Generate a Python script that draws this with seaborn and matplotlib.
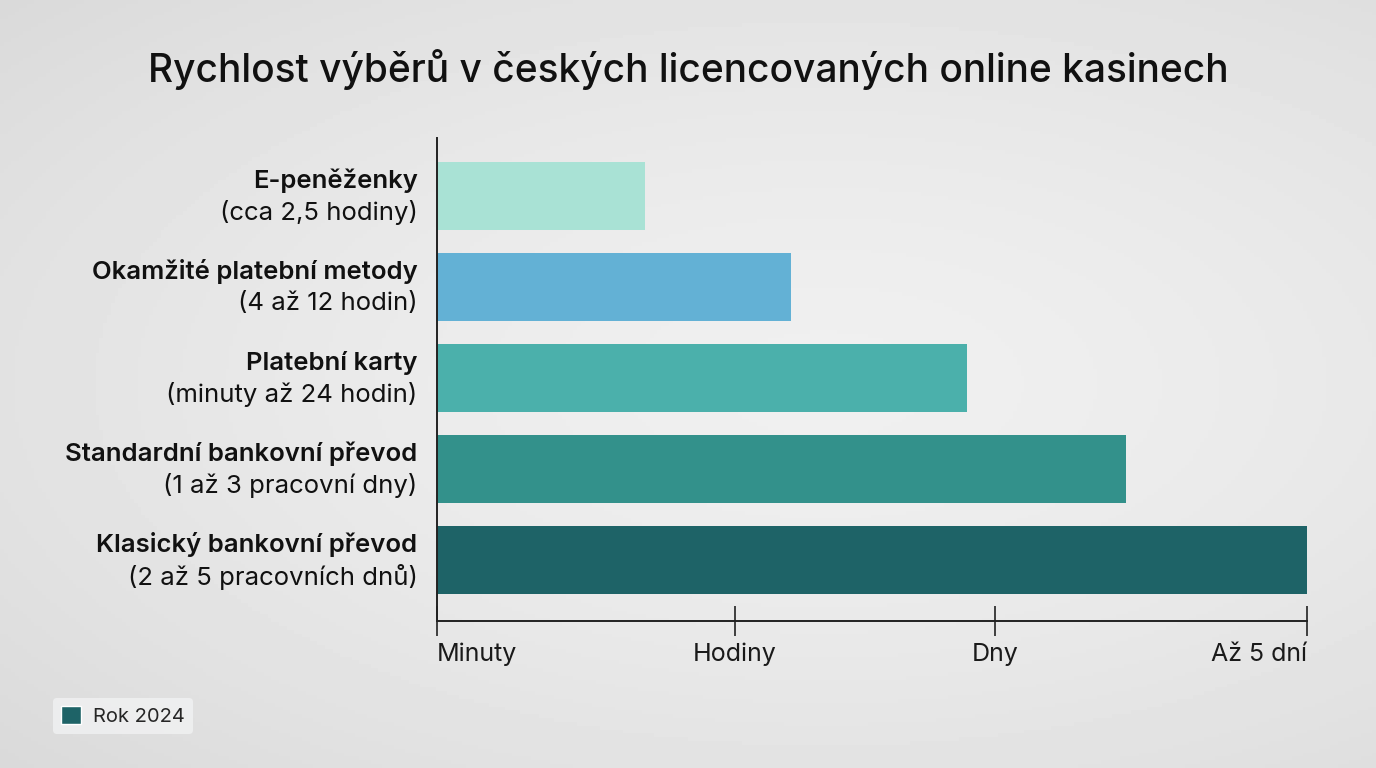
#!/usr/bin/env python3
"""Withdrawal speed in Czech licensed online casinos - horizontal bar chart."""

import matplotlib.pyplot as plt
import numpy as np
import pandas as pd
import seaborn as sns
from matplotlib.patches import Patch
from matplotlib.transforms import blended_transform_factory

methods = [
    "E-peněženky",
    "Okamžité platební metody",
    "Platební karty",
    "Standardní bankovní převod",
    "Klasický bankovní převod",
]
durations = [
    "(cca 2,5 hodiny)",
    "(4 až 12 hodin)",
    "(minuty až 24 hodin)",
    "(1 až 3 pracovní dny)",
    "(2 až 5 pracovních dnů)",
]
# relative speed on the qualitative scale Minuty -> Až 5 dní (0..100)
speed = [23.9, 40.7, 60.9, 79.2, 100.0]
colors = ["#a9e2d5", "#63b1d5", "#4bb0ab", "#33918b", "#1e6367"]
tick_pos = [0, 34.2, 64.2, 100]
tick_labels = ["Minuty", "Hodiny", "Dny", "Až 5 dní"]
legend_label = "Rok 2024"
title = "Rychlost výběrů v českých licencovaných online kasinech"

df = pd.DataFrame({"method": methods, "speed": speed})

sns.set_theme(style="white")
plt.rcParams["font.family"] = ["Inter", "DejaVu Sans"]

fig = plt.figure(figsize=(13.76, 7.68), dpi=100)

# soft grey radial background
bg = fig.add_axes([0, 0, 1, 1], zorder=-10)
yy, xx = np.mgrid[0:1:200j, 0:1:360j]
r = np.sqrt(((xx - 0.6) / 0.9) ** 2 + ((yy - 0.5) / 0.8) ** 2)
shade = 0.94 - 0.10 * np.clip(r, 0, 1) ** 1.5
bg.imshow(shade, cmap="gray", vmin=0, vmax=1, aspect="auto", extent=[0, 1, 0, 1])
bg.axis("off")

ax = fig.add_axes([0.3176, 0.1914, 0.6322, 0.6289])
ax.patch.set_alpha(0)
sns.barplot(
    data=df,
    x="speed",
    y="method",
    hue="method",
    palette=colors,
    orient="h",
    width=0.74,
    legend=False,
    saturation=1,
    linewidth=0,
    ax=ax,
)
ax.set_xlim(0, 100)
ax.set_ylim(4.67, -0.637)
ax.set_xlabel("")
ax.set_ylabel("")
ax.set_yticks([])
ax.set_xticks(tick_pos)
ax.set_xticklabels(tick_labels, fontsize=18, color="#1a1a1a")
for lbl, ha in zip(ax.get_xticklabels(), ["left", "center", "center", "right"]):
    lbl.set_ha(ha)
ax.tick_params(axis="x", bottom=True, direction="inout", length=21,
               width=1.2, color="#222222", pad=5)
sns.despine(ax=ax)
for side in ["left", "bottom"]:
    ax.spines[side].set_color("#222222")
    ax.spines[side].set_linewidth(1.4)

trans = blended_transform_factory(ax.transAxes, ax.transData)
for i, (name, dur) in enumerate(zip(methods, durations)):
    ax.annotate(name, xy=(0, i), xycoords=trans, xytext=(-14, 11),
                textcoords="offset points", ha="right", va="center",
                fontsize=18.5, fontweight="semibold", color="#111111")
    ax.annotate(dur, xy=(0, i), xycoords=trans, xytext=(-14, -12),
                textcoords="offset points", ha="right", va="center",
                fontsize=18.5, color="#111111")

fig.text(0.5, 0.909, title, ha="center", va="center", fontsize=28,
         fontweight="medium", color="#111111")

leg = fig.legend(
    handles=[Patch(facecolor=colors[-1], label=legend_label)],
    loc="lower left",
    bbox_to_anchor=(0.031, 0.031),
    fontsize=14.5,
    frameon=True,
    fancybox=True,
    handlelength=1.0,
    handleheight=1.0,
    handletextpad=0.6,
    borderpad=0.4,
)
leg.get_frame().set_facecolor("#f1f2f3")
leg.get_frame().set_edgecolor("none")

fig.savefig("out.png", dpi=100)
